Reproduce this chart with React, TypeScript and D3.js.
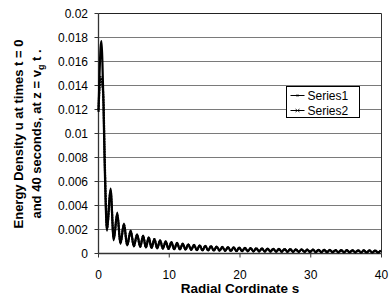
import React from "react";
import * as d3 from "d3";

const sValues = [0, 0.15, 0.3, 0.42, 0.55, 0.7, 0.85, 1.0, 1.2, 1.7, 2.15, 2.65, 3.1, 3.6, 4.05, 4.55, 5.0, 5.45,
  5.9, 6.3, 6.7, 7.1, 7.5, 7.9, 8.3, 8.7, 9.1, 9.5, 9.9, 10.3, 10.7, 11.1, 11.5, 11.9, 12.3, 12.7, 13.1, 13.5,
  13.9, 14.3, 14.7, 15.1, 15.5, 15.9, 16.3, 16.7, 17.1, 17.5, 17.9, 18.3, 18.7, 19.1, 19.5, 19.9, 20.3, 20.7,
  21.1, 21.5, 21.9, 22.3, 22.7, 23.1, 23.5, 23.9, 24.3, 24.7, 25.1, 25.5, 25.9, 26.3, 26.7, 27.1, 27.5, 27.9,
  28.3, 28.7, 29.1, 29.5, 29.9, 30.3, 30.7, 31.1, 31.5, 31.9, 32.3, 32.7, 33.1, 33.5, 33.9, 34.3, 34.7, 35.1,
  35.5, 35.9, 36.3, 36.7, 37.1, 37.5, 37.9, 38.3, 38.7, 39.1, 39.5, 39.9];

const series1 = [0.0118, 0.015, 0.0172, 0.0177, 0.016, 0.0125, 0.008, 0.0045, 0.0019, 0.0054, 0.0011, 0.0034, 0.0008, 0.0025, 0.00068, 0.0019, 0.0006, 0.0016,
  0.00055, 0.0015, 0.0005, 0.00134, 0.00046, 0.00121, 0.00043, 0.0011, 0.0004, 0.00101, 0.00038, 0.00094,
  0.00036, 0.00088, 0.00034, 0.00082, 0.00032, 0.00077, 0.0003, 0.00072, 0.00028, 0.00068, 0.00026, 0.00064,
  0.00025, 0.00061, 0.00024, 0.00058, 0.00023, 0.00055, 0.00022, 0.00053, 0.00021, 0.00051, 0.0002, 0.00049,
  0.00019, 0.00047, 0.00018, 0.00045, 0.000175, 0.00043, 0.00017, 0.00042, 0.00016, 0.0004, 0.000155, 0.00039,
  0.00015, 0.00038, 0.000145, 0.00037, 0.00014, 0.00036, 0.000135, 0.00035, 0.00013, 0.00034, 0.000125, 0.00033,
  0.00012, 0.00032, 0.000115, 0.00031, 0.00011, 0.0003, 0.000108, 0.000295, 0.000105, 0.00029, 0.0001, 0.00028,
  0.000098, 0.000275, 0.000095, 0.00027, 0.000092, 0.000265, 0.00009, 0.00026, 0.000088, 0.000255, 0.000085, 0.00025,
  0.000082, 0.000245];

const series2 = [0.012, 0.0138, 0.0147, 0.0144, 0.014, 0.0128, 0.0088, 0.005, 0.0021, 0.0052, 0.0013, 0.0032, 0.0009, 0.0024, 0.00072, 0.00185, 0.00062, 0.00155,
  0.00058, 0.00146, 0.00052, 0.00131, 0.00048, 0.00119, 0.00045, 0.00108, 0.00042, 0.00099, 0.00039, 0.00092,
  0.00037, 0.00086, 0.00035, 0.0008, 0.00033, 0.00075, 0.00031, 0.0007, 0.00029, 0.00066, 0.00027, 0.00063,
  0.00026, 0.0006, 0.00025, 0.00057, 0.00024, 0.00054, 0.00023, 0.00052, 0.00022, 0.0005, 0.00021, 0.00048,
  0.0002, 0.00046, 0.00019, 0.00044, 0.000185, 0.000425, 0.00018, 0.00041, 0.00017, 0.000395, 0.000165, 0.000385,
  0.00016, 0.000375, 0.000155, 0.000365, 0.00015, 0.000355, 0.000145, 0.000345, 0.00014, 0.000335, 0.000135, 0.000325,
  0.00013, 0.000315, 0.000125, 0.000305, 0.00012, 0.000298, 0.000115, 0.000292, 0.000112, 0.000285, 0.000108, 0.000278,
  0.000105, 0.000272, 0.0001, 0.000268, 0.000098, 0.000262, 0.000095, 0.000258, 0.000092, 0.000252, 0.00009, 0.000248,
  0.000088, 0.000242];

const xTicks = [0, 10, 20, 30, 40];
const yTicks = [0, 0.002, 0.004, 0.006, 0.008, 0.01, 0.012, 0.014, 0.016, 0.018, 0.02];
const seriesNames = ["Series1", "Series2"];
const xTitle = "Radial Cordinate s";
const yTitle1 = "Energy Density u at times t = 0";

const FONT = "'Liberation Sans', Arial, sans-serif";

export default function App() {
  const W = 391, H = 308;
  const x = d3.scaleLinear().domain([0, 40]).range([98.5, 381.5]);
  const y = d3.scaleLinear().domain([0, 0.02]).range([253.5, 13.5]);
  const line = d3.line<number>()
    .x((_, i) => x(sValues[i]))
    .curve(d3.curveMonotoneX);
  const path1 = line.y((d) => y(d))(series1) || "";
  const path2 = line.y((d) => y(d))(series2) || "";

  const legX = 286.5, legY = 86.5, legW = 73, legH = 31;

  return (
    <svg width={W} height={H} style={{ position: "absolute", left: 0, top: 0, background: "#fff" }}
      fontFamily={FONT}>
      <rect x={0} y={0} width={W} height={H} fill="#fff" />
      {yTicks.map((t) => (
        <g key={"g" + t}>
          {t > 0 && (
            <line x1={x(0)} x2={x(40)} y1={y(t)} y2={y(t)} stroke={t === 0.02 ? "#222" : "#7a7a7a"} strokeWidth={1} />
          )}
          <line x1={x(0) - 4} x2={x(0)} y1={y(t)} y2={y(t)} stroke="#333" strokeWidth={1} />
          <text x={88} y={y(t)} dy="0.35em" textAnchor="end" fontSize={12} fill="#000">
            {String(t)}
          </text>
        </g>
      ))}
      <line x1={x(40)} x2={x(40)} y1={y(0.02)} y2={y(0)} stroke="#333" strokeWidth={1} />
      <line x1={x(0)} x2={x(0)} y1={y(0.02)} y2={y(0)} stroke="#333" strokeWidth={1.3} />
      <line x1={x(0)} x2={x(40)} y1={y(0)} y2={y(0)} stroke="#333" strokeWidth={1.3} />
      {xTicks.map((t) => (
        <g key={"x" + t}>
          <line x1={x(t)} x2={x(t)} y1={y(0)} y2={y(0) + 4} stroke="#333" strokeWidth={1} />
          <text x={x(t)} y={279} textAnchor="middle" fontSize={12} fill="#000">{t}</text>
        </g>
      ))}
      <path d={path2} fill="none" stroke="#000" strokeWidth={2.2} strokeDasharray="2 0.6" />
      <path d={path1} fill="none" stroke="#000" strokeWidth={2.2} />
      <text x={240} y={293} textAnchor="middle" fontSize={13.5} fontWeight="bold">{xTitle}</text>
      <text transform="translate(23,134) rotate(-90)" textAnchor="middle" fontSize={13} fontWeight="bold">{yTitle1}</text>
      <text transform="translate(41,134) rotate(-90)" textAnchor="middle" fontSize={13} fontWeight="bold">
        and 40 seconds, at z = v<tspan fontSize={9} dy={3}>g</tspan><tspan dy={-3}> t .</tspan>
      </text>
      <rect x={legX} y={legY} width={legW} height={legH} fill="#fff" stroke="#000" strokeWidth={1} />
      {seriesNames.map((n, i) => {
        const cy = legY + 9 + i * 15;
        return (
          <g key={n}>
            <line x1={legX + 4} x2={legX + 18} y1={cy} y2={cy} stroke="#000" strokeWidth={1} />
            {i === 0 ? (
              <rect x={legX + 9.5} y={cy - 0.8} width={3} height={1.6} fill="#000" />
            ) : (
              <path d={`M${legX + 9},${cy - 1.5}L${legX + 13},${cy + 1.5}M${legX + 9},${cy + 1.5}L${legX + 13},${cy - 1.5}`} stroke="#000" strokeWidth={0.8} />
            )}
            <text x={legX + 21} y={cy} dy="0.35em" fontSize={12}>{n}</text>
          </g>
        );
      })}
    </svg>
  );
}
